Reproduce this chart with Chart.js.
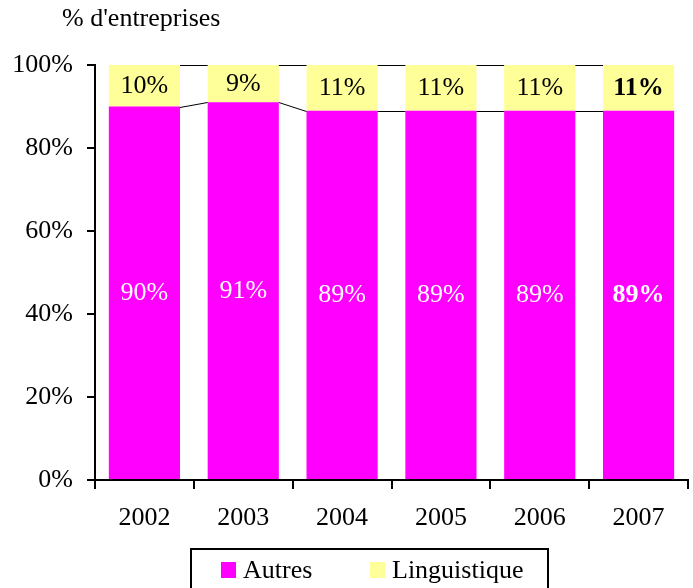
<!DOCTYPE html>
<html>
<head>
<meta charset="utf-8">
<script src="https://cdn.jsdelivr.net/npm/chart.js@4"></script>
<style>
  body { margin: 0; background: #fff; }
  #wrap { width: 693px; height: 588px; }
</style>
</head>
<body>
<div id="wrap"><canvas id="chart" width="693" height="588"></canvas></div>
<script>
var years = ['2002', '2003', '2004', '2005', '2006', '2007'];
var autres = [90, 91, 89, 89, 89, 89];
var linguistique = [10, 9, 11, 11, 11, 11];
var yTicks = [0, 20, 40, 60, 80, 100];

var serif = '"Liberation Serif", "Times New Roman", serif';

// lines joining the tops of the stacked segments, like Excel series lines
var seriesLines = {
  id: 'seriesLines',
  afterDatasetsDraw: function(chart) {
    var ctx = chart.ctx;
    ctx.save();
    ctx.strokeStyle = '#000';
    ctx.lineWidth = 1;
    chart.data.datasets.forEach(function(ds, d) {
      var bars = chart.getDatasetMeta(d).data;
      for (var i = 0; i < bars.length - 1; i++) {
        var a = bars[i], b = bars[i + 1];
        ctx.beginPath();
        ctx.moveTo(a.x + a.width / 2, Math.round(a.y) + 0.5);
        ctx.lineTo(b.x - b.width / 2, Math.round(b.y) + 0.5);
        ctx.stroke();
      }
    });
    ctx.restore();
  }
};

var valueLabels = {
  id: 'valueLabels',
  afterDatasetsDraw: function(chart) {
    var ctx = chart.ctx;
    ctx.save();
    ctx.textAlign = 'center';
    ctx.textBaseline = 'middle';
    chart.data.datasets.forEach(function(ds, d) {
      chart.getDatasetMeta(d).data.forEach(function(bar, i) {
        var last = i === ds.data.length - 1;
        ctx.font = (last ? 'bold ' : '') + '26px ' + serif;
        ctx.fillStyle = d === 0 ? '#fff' : '#000';
        ctx.fillText(ds.data[i] + '%', bar.x, (bar.y + bar.base) / 2);
      });
    });
    ctx.restore();
  }
};

var titleAndLegend = {
  id: 'titleAndLegend',
  afterDraw: function(chart) {
    var ctx = chart.ctx;
    ctx.save();
    ctx.font = '26px ' + serif;
    ctx.fillStyle = '#000';
    ctx.textBaseline = 'middle';
    ctx.fillText("% d'entreprises", 62, 19);

    // legend box
    ctx.strokeStyle = '#000';
    ctx.lineWidth = 2;
    ctx.strokeRect(191, 549, 357, 45);
    var items = [
      { x: 221, text: chart.data.datasets[0].label, color: chart.data.datasets[0].backgroundColor },
      { x: 370, text: chart.data.datasets[1].label, color: chart.data.datasets[1].backgroundColor }
    ];
    items.forEach(function(it) {
      ctx.fillStyle = it.color;
      ctx.fillRect(it.x, 562, 15, 16);
      ctx.fillStyle = '#000';
      ctx.fillText(it.text, it.x + 22, 571);
    });
    ctx.restore();
  }
};

new Chart(document.getElementById('chart'), {
  type: 'bar',
  data: {
    labels: years,
    datasets: [
      { label: 'Autres', data: autres, backgroundColor: '#FF00FF', borderWidth: 0 },
      { label: 'Linguistique', data: linguistique, backgroundColor: '#FFFF99', borderWidth: 0 }
    ]
  },
  options: {
    responsive: false,
    animation: false,
    layout: { padding: { top: 65, right: 5, bottom: 48, left: 0 } },
    plugins: {
      legend: { display: false },
      title: { display: false },
      tooltip: { enabled: false }
    },
    scales: {
      x: {
        stacked: true,
        categoryPercentage: 1,
        barPercentage: 0.71,
        afterFit: function(s) { s.height = 60; },
        border: { display: true, color: '#000', width: 2 },
        grid: { drawOnChartArea: false, drawTicks: true, tickLength: 9, color: '#000', lineWidth: 2 },
        ticks: { color: '#000', font: { family: serif, size: 26 }, padding: 14 }
      },
      y: {
        stacked: true,
        min: 0,
        max: 100,
        afterBuildTicks: function(s) { s.ticks = yTicks.map(function(v) { return { value: v }; }); },
        afterFit: function(s) { s.width = 95; },
        border: { display: true, color: '#000', width: 2 },
        grid: { drawOnChartArea: false, drawTicks: true, tickLength: 8, color: '#000', lineWidth: 2 },
        ticks: {
          color: '#000',
          font: { family: serif, size: 26 },
          padding: 14,
          callback: function(v) { return v + '%'; }
        }
      }
    }
  },
  plugins: [seriesLines, valueLabels, titleAndLegend]
});
</script>
</body>
</html>
